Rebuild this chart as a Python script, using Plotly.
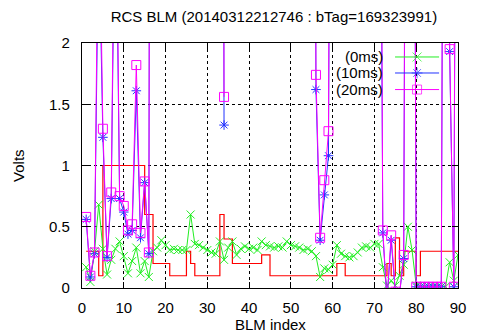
import plotly.graph_objects as go

# ---------------- data ----------------
blm_index = list(range(1, 91))

v_0ms = [0.17, 0.05, 0.30, 0.68, 0.32, 0.11, 0.23, 0.32, 0.38, 0.26,
         0.12, 0.22, 0.33, 0.12, 0.22, 0.09, 0.30, 0.33, 0.39, 0.35,
         0.31, 0.32, 0.31, 0.31, 0.31, 0.60, 0.36, 0.35, 0.33, 0.31,
         0.29, 0.28, 0.38, 0.23, 0.33, 0.38, 0.27, 0.32, 0.34, 0.32,
         0.33, 0.31, 0.38, 0.35, 0.34, 0.33, 0.34, 0.33, 0.38, 0.35,
         0.34, 0.33, 0.31, 0.32, 0.30, 0.26, 0.09, 0.16, 0.15, 0.19,
         0.35, 0.28, 0.26, 0.25, 0.26, 0.29, 0.33, 0.34, 0.33, 0.36,
         0.36, 0.17, 0.02, 0.06, 0.02, 0.10, 0.19, 0.50, 0.31, 0.02,
         0.01, 0.01, 0.01, 0.01, 0.01, 0.01, 0.01, 0.21, 0.06, 0.27]

N = None
v_10ms = [0.56, 0.09, 0.28, 3.0, 1.23, 0.25, 0.73, 3.6, 0.73, 0.62,
          0.44, 0.47, 1.61, 0.41, 0.86, 0.28, 18, N, N, N,
          N, N, N, N, N, N, N, N, N, N,
          N, N, 18, 1.33, N, N, N, N, N, N,
          N, N, N, N, N, N, N, N, N, N,
          N, N, N, N, 11, 1.62, 0.39, 0.76, 1.08, 9,
          N, N, N, N, N, N, N, N, N, N,
          7, 0.45, -0.1, 0.39, -0.03, -0.05, 0.24, 9, 9, 0.01,
          0.01, 0.01, 0.01, 0.01, 0.01, 0.01, 9, 1.93, 0.01, 9]

v_20ms = [0.58, 0.10, 0.29, 3.5, 1.30, 0.26, 0.78, 4.0, 0.75, 0.67,
          0.47, 0.52, 1.82, 0.45, 0.87, 0.29, 20, N, N, N,
          N, N, N, N, N, N, N, N, N, N,
          N, N, 20, 1.56, N, N, N, N, N, N,
          N, N, N, N, N, N, N, N, N, N,
          N, N, N, N, 12, 1.74, 0.41, 0.88, 1.28, 10,
          N, N, N, N, N, N, N, N, N, N,
          8, 0.47, -0.1, 0.43, -0.03, -0.05, 0.27, 10, 10, 0.01,
          0.01, 0.01, 0.01, 0.01, 0.01, 0.01, 10, 1.95, 0.01, 10]

v_thr = [0.3, 0.3, 0.3, 0.1, 1.0, 1.0, 1.0, 1.0, 1.0, 1.0,
         1.0, 1.0, 1.0, 1.0, 0.6, 0.6, 0.2, 0.2, 0.2, 0.2,
         0.1, 0.1, 0.1, 0.1, 0.3, 0.2, 0.1, 0.1, 0.1, 0.1,
         0.1, 0.1, 0.6, 0.4, 0.4, 0.2, 0.2, 0.2, 0.2, 0.2,
         0.2, 0.2, 0.27, 0.27, 0.1, 0.1, 0.1, 0.1, 0.1, 0.1,
         0.1, 0.1, 0.1, 0.1, 0.1, 0.1, 0.1, 0.1, 0.1, 0.1,
         0.2, 0.2, 0.1, 0.1, 0.1, 0.1, 0.1, 0.1, 0.1, 0.1,
         0.1, 0.1, 0.2, 0.1, 0.41, 0.1, 0.3, 0.3, 0.3, 0.1,
         0.3, 0.3, 0.3, 0.3, 0.3, 0.3, 0.3, 0.3, 0.3, 0.3]

legend_names = ["(0ms)", "(10ms)", "(20ms)"]
x_ticks = [0, 10, 20, 30, 40, 50, 60, 70, 80, 90]
y_ticks = [0, 0.5, 1, 1.5, 2]

# ---------------- styles ----------------
GREEN = "#22ee22"
BLUE = "#2233ff"
MAGENTA = "#ff00ff"
RED = "#ff0000"
FONT = "Liberation Sans"

fig = go.Figure()

fig.add_trace(go.Scatter(x=blm_index, y=v_thr, mode="lines", line_shape="hv",
                         line=dict(color=RED, width=1.2), showlegend=False))
fig.add_trace(go.Scatter(x=blm_index, y=v_0ms, mode="lines+markers",
                         line=dict(color=GREEN, width=1),
                         marker=dict(symbol="x-thin", size=8, color=GREEN,
                                     line=dict(color=GREEN, width=1)),
                         showlegend=False))
fig.add_trace(go.Scatter(x=blm_index, y=v_10ms, mode="lines+markers",
                         line=dict(color=BLUE, width=1),
                         marker=dict(symbol="asterisk", size=8, color=BLUE,
                                     line=dict(color=BLUE, width=1)),
                         showlegend=False))
fig.add_trace(go.Scatter(x=blm_index, y=v_20ms, mode="lines+markers",
                         line=dict(color=MAGENTA, width=1),
                         marker=dict(symbol="square-open", size=9, color=MAGENTA,
                                     line=dict(color=MAGENTA, width=1)),
                         showlegend=False))

# ---------------- custom legend (gnuplot style) ----------------
leg_y = [0.943, 0.8776, 0.810]
leg_x0, leg_x1 = 0.8326, 0.9497
leg_xm = (leg_x0 + leg_x1) / 2
leg_colors = [GREEN, BLUE, MAGENTA]
leg_symbols = ["x-thin", "asterisk", "square-open"]
for name, yy, c, s in zip(legend_names, leg_y, leg_colors, leg_symbols):
    fig.add_trace(go.Scatter(x=[leg_x0, leg_xm, leg_x1], y=[yy, yy, yy],
                             xaxis="x2", yaxis="y2", mode="lines+markers",
                             line=dict(color=c, width=1),
                             marker=dict(symbol=s, size=[0, 9, 0], color=c,
                                         line=dict(color=c, width=1)),
                             showlegend=False, hoverinfo="skip"))
    fig.add_annotation(text=name, xref="paper", yref="paper", x=0.8047, y=yy,
                       xanchor="right", yanchor="middle", showarrow=False,
                       font=dict(family=FONT, size=15, color="black"))

axis_common = dict(showline=True, linecolor="black", linewidth=1.2, mirror="allticks",
                   ticks="inside", ticklen=6, tickcolor="black", tickwidth=1,
                   showgrid=True, gridcolor="black", griddash="dot", gridwidth=1,
                   zeroline=False,
                   tickfont=dict(family=FONT, size=15, color="black"))

fig.update_layout(
    width=478, height=336,
    margin=dict(l=82, r=12, t=43, b=48),
    paper_bgcolor="white", plot_bgcolor="white",
    title=dict(text="RCS BLM (20140312212746 : bTag=169323991)",
               x=0.573, xanchor="center", y=1 - 17 / 336, yanchor="middle",
               font=dict(family=FONT, size=15, color="black")),
    xaxis=dict(range=[0, 90], tickvals=x_ticks, ticklabelstandoff=6, **axis_common),
    yaxis=dict(range=[0, 2], tickvals=y_ticks, ticklabelstandoff=8, **axis_common),
    xaxis2=dict(overlaying="x", range=[0, 1], visible=False),
    yaxis2=dict(overlaying="y", range=[0, 1], visible=False),
    showlegend=False,
)

fig.add_annotation(text="BLM index", xref="paper", yref="paper", x=0.5, y=-0.151,
                   xanchor="center", yanchor="middle", showarrow=False,
                   font=dict(family=FONT, size=15, color="black"))
fig.add_annotation(text="Volts", xref="paper", yref="paper", x=-0.169, y=0.5,
                   xanchor="center", yanchor="middle", textangle=-90, showarrow=False,
                   font=dict(family=FONT, size=15, color="black"))

fig.write_html("out.html")
